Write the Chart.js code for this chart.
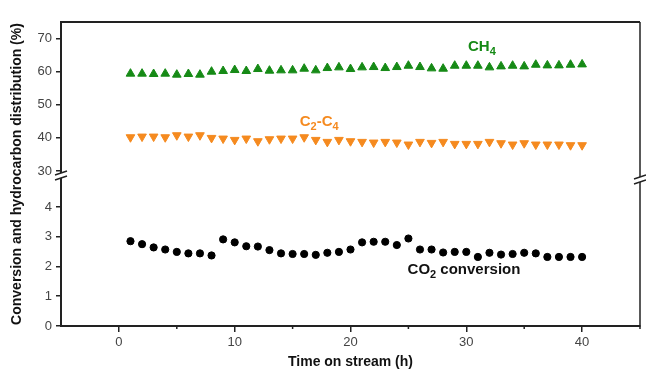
<!DOCTYPE html>
<html>
<head>
<meta charset="utf-8">
<script src="https://cdn.jsdelivr.net/npm/chart.js@4.4.1/dist/chart.umd.min.js"></script>
<style>
  html, body { margin: 0; padding: 0; background: #fff; }
</style>
</head>
<body>
<canvas id="chart" width="646" height="371"></canvas>
<script>
// Data
const hours = [1, 2, 3, 4, 5, 6, 7, 8, 9, 10, 11, 12, 13, 14, 15, 16, 17, 18, 19, 20,
  21, 22, 23, 24, 25, 26, 27, 28, 29, 30, 31, 32, 33, 34, 35, 36, 37, 38, 39, 40];
const ch4 = [59.4, 59.4, 59.3, 59.4, 59.1, 59.3, 59.1, 60.0, 60.2, 60.5, 60.2, 60.8, 60.3, 60.4, 60.4, 60.9, 60.4, 61.1, 61.3, 60.8,
  61.3, 61.4, 61.1, 61.4, 61.8, 61.4, 61.0, 60.9, 61.8, 61.8, 61.8, 61.3, 61.6, 61.8, 61.6, 62.1, 61.9, 61.9, 62.1, 62.2];
const c2c4 = [40.2, 40.4, 40.4, 40.2, 40.8, 40.4, 40.8, 40.0, 39.8, 39.4, 39.8, 39.0, 39.6, 39.8, 39.8, 40.2, 39.4, 38.8, 39.4, 39.0,
  38.8, 38.6, 38.8, 38.6, 38.0, 38.8, 38.5, 38.8, 38.2, 38.2, 38.2, 38.8, 38.4, 38.0, 38.4, 38.0, 38.0, 38.0, 37.8, 37.8];
const co2 = [2.85, 2.75, 2.64, 2.57, 2.49, 2.44, 2.44, 2.37, 2.91, 2.81, 2.68, 2.67, 2.55, 2.44, 2.42, 2.42, 2.39, 2.46, 2.49, 2.57,
  2.81, 2.83, 2.83, 2.72, 2.94, 2.57, 2.57, 2.47, 2.49, 2.49, 2.32, 2.46, 2.40, 2.42, 2.46, 2.44, 2.32, 2.32, 2.32, 2.32];

const xTickValues = [0, 10, 20, 30, 40];
const xMinorValues = [5, 15, 25, 35, 45];
const topTickValues = [30, 40, 50, 60, 70];
const bottomTickValues = [0, 1, 2, 3, 4];

const GREEN = '#168a16';
const ORANGE = '#f58a1f';
const AXIS = '#222';
Chart.defaults.font.family = "'Liberation Sans', Arial, sans-serif";

function toPoints(values) {
  return hours.map((h, i) => ({ x: h, y: values[i] }));
}

// text with subscripts: parts = [[text, isSub], ...]
function drawRichText(ctx, parts, cx, cy, color) {
  const big = "bold 15px 'Liberation Sans', Arial, sans-serif";
  const small = "bold 11px 'Liberation Sans', Arial, sans-serif";
  let total = 0;
  parts.forEach(p => { ctx.font = p[1] ? small : big; total += ctx.measureText(p[0]).width; });
  let x = cx - total / 2;
  ctx.fillStyle = color;
  ctx.textBaseline = 'middle';
  ctx.textAlign = 'left';
  parts.forEach(p => {
    ctx.font = p[1] ? small : big;
    ctx.fillText(p[0], x, p[1] ? cy + 5 : cy);
    x += ctx.measureText(p[0]).width;
  });
}

function drawBreak(ctx, bx, by) {
  ctx.fillStyle = '#fff';
  ctx.beginPath();
  ctx.moveTo(bx - 6, by + 1);
  ctx.lineTo(bx + 6, by - 3);
  ctx.lineTo(bx + 6, by + 2);
  ctx.lineTo(bx - 6, by + 6);
  ctx.closePath();
  ctx.fill();
  ctx.strokeStyle = AXIS;
  ctx.lineWidth = 1.5;
  ctx.beginPath();
  ctx.moveTo(bx - 6, by + 1);
  ctx.lineTo(bx + 6, by - 3);
  ctx.moveTo(bx - 6, by + 6);
  ctx.lineTo(bx + 6, by + 2);
  ctx.stroke();
}

const framePlugin = {
  id: 'frame',
  afterDraw(chart) {
    const ctx = chart.ctx;
    const a = chart.chartArea;
    const sx = chart.scales.x;
    const sTop = chart.scales.yTop;
    const sBot = chart.scales.y;
    ctx.save();
    ctx.strokeStyle = AXIS;
    ctx.lineWidth = 2;
    ctx.beginPath();
    ctx.moveTo(a.left - 1, a.top);
    ctx.lineTo(a.right, a.top);
    ctx.stroke();
    ctx.lineWidth = 1.5;
    ctx.beginPath();
    ctx.moveTo(a.right, a.top);
    ctx.lineTo(a.right, a.bottom);
    ctx.stroke();

    // minor ticks on x
    xMinorValues.forEach(v => {
      const px = sx.getPixelForValue(v);
      ctx.beginPath();
      ctx.moveTo(px, a.bottom);
      ctx.lineTo(px, a.bottom + 3);
      ctx.stroke();
    });

    // axis breaks
    const by = sTop.bottom;
    drawBreak(ctx, a.left, by - 2);
    drawBreak(ctx, a.right, by + 2);

    // y title
    ctx.save();
    ctx.translate(17, (a.top + a.bottom) / 2);
    ctx.rotate(-Math.PI / 2);
    ctx.font = "bold 14px 'Liberation Sans', Arial, sans-serif";
    ctx.fillStyle = '#111';
    ctx.textAlign = 'center';
    ctx.textBaseline = 'middle';
    ctx.fillText('Conversion and hydrocarbon distribution (%)', 0, 0);
    ctx.restore();

    // series labels
    drawRichText(ctx, [['CH', false], ['4', true]], sx.getPixelForValue(31.35), sTop.getPixelForValue(67.6), GREEN);
    drawRichText(ctx, [['C', false], ['2', true], ['-C', false], ['4', true]], sx.getPixelForValue(17.3), sTop.getPixelForValue(44.9), ORANGE);
    drawRichText(ctx, [['CO', false], ['2', true], [' conversion', false]], sx.getPixelForValue(29.8), sBot.getPixelForValue(1.88), '#111');
    ctx.restore();
  }
};

const yGrid = { display: true, drawOnChartArea: false, drawTicks: true, tickLength: 5, color: AXIS, lineWidth: 1.5 };
const yBorder = { display: true, color: AXIS, width: 2 };
const tickFont = { size: 13 };

new Chart(document.getElementById('chart').getContext('2d'), {
  type: 'scatter',
  data: {
    datasets: [
      {
        label: 'CH4',
        data: toPoints(ch4),
        yAxisID: 'yTop',
        pointStyle: 'triangle',
        pointRadius: 5,
        backgroundColor: GREEN,
        borderColor: GREEN,
        borderWidth: 1
      },
      {
        label: 'C2-C4',
        data: toPoints(c2c4),
        yAxisID: 'yTop',
        pointStyle: 'triangle',
        rotation: 180,
        pointRadius: 5,
        backgroundColor: ORANGE,
        borderColor: ORANGE,
        borderWidth: 1
      },
      {
        label: 'CO2 conversion',
        data: toPoints(co2),
        yAxisID: 'y',
        pointStyle: 'circle',
        pointRadius: 3.6,
        backgroundColor: '#000',
        borderColor: '#000',
        borderWidth: 1
      }
    ]
  },
  options: {
    responsive: false,
    animation: false,
    layout: { padding: { top: 22, right: 5, left: 0, bottom: 0 } },
    plugins: { legend: { display: false }, tooltip: { enabled: false } },
    scales: {
      x: {
        type: 'linear',
        min: -5,
        max: 45,
        afterBuildTicks: s => { s.ticks = xTickValues.map(v => ({ value: v })); },
        afterFit: s => { s.height = 45; },
        grid: { display: true, drawOnChartArea: false, drawTicks: true, tickLength: 6, color: AXIS, lineWidth: 1.5 },
        border: { display: true, color: AXIS, width: 2 },
        ticks: { font: tickFont, color: '#444', padding: 3, maxRotation: 0 },
        title: { display: true, text: 'Time on stream (h)', font: { size: 14, weight: 'bold' }, color: '#111', padding: { top: 0, bottom: 0 } }
      },
      // left boxes are placed in reverse order, so the lower part comes first
      y: {
        type: 'linear',
        position: 'left',
        stack: 'broken',
        stackWeight: 150,
        min: 0,
        max: 5.04,
        afterBuildTicks: s => { s.ticks = bottomTickValues.map(v => ({ value: v })); },
        afterFit: s => { s.width = 61; },
        grid: yGrid,
        border: yBorder,
        ticks: { font: tickFont, color: '#444', padding: 4 }
      },
      yTop: {
        type: 'linear',
        position: 'left',
        stack: 'broken',
        stackWeight: 154,
        min: 28.5,
        max: 75,
        afterBuildTicks: s => { s.ticks = topTickValues.map(v => ({ value: v })); },
        afterFit: s => { s.width = 61; },
        grid: yGrid,
        border: yBorder,
        ticks: { font: tickFont, color: '#444', padding: 4 }
      }
    }
  },
  plugins: [framePlugin]
});
</script>
</body>
</html>
